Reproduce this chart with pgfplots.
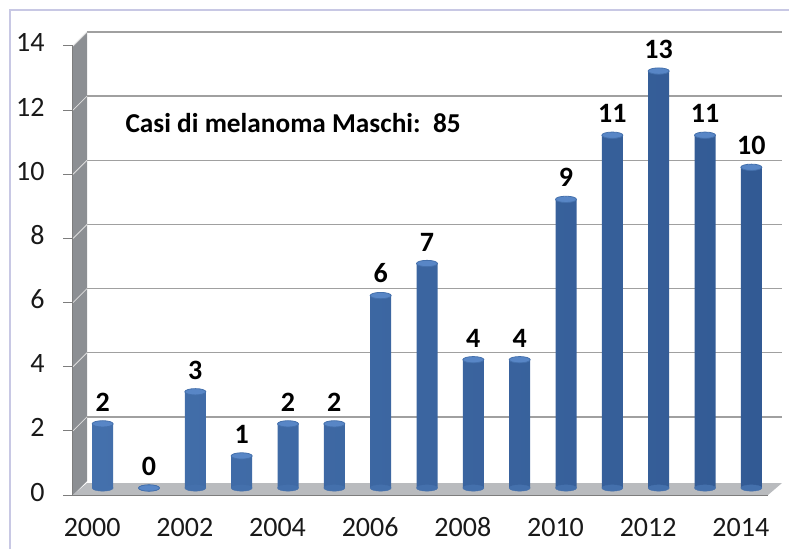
\documentclass[border=0pt]{standalone}
\usepackage{fontspec}
\setmainfont{Carlito}
\usepackage{pgfplots}
\usepackage{pgfplotstable}
\pgfplotsset{compat=1.18}

\definecolor{barmid}{RGB}{100,150,212}
\definecolor{barleft}{RGB}{68,112,172}
\definecolor{bardark}{RGB}{50,90,148}
\definecolor{bartop}{RGB}{88,134,198}
\definecolor{wallgray}{RGB}{140,143,147}
\definecolor{floorgray}{RGB}{185,187,190}
\definecolor{gridgray}{RGB}{160,160,160}
\definecolor{framecol}{RGB}{200,200,228}
\definecolor{tickgray}{RGB}{125,125,125}

% melanoma cases, males
\pgfplotstableread{
year cases base
2000 2  0
2001 0  0
2002 3  0
2003 1  0
2004 2  0
2005 2  0
2006 6  0
2007 7  0
2008 4  0
2009 4  0
2010 9  0
2011 11 0
2012 13 0
2013 11 0
2014 10 0
}\casi

\begin{document}
\begin{tikzpicture}[x=1pt,y=1pt]
% outer frame (only left and top visible)
\draw[framecol, line width=1.2pt] (-63,-54) -- (-63,485) -- (716,485);
% 3d walls
\fill[wallgray] (0,0) -- (0,449) -- (14,463) -- (14,14) -- cycle;
\fill[floorgray] (0,0) -- (695,0) -- (709,12) -- (14,12) -- cycle;
\foreach \v in {2,4,...,14} {
  \draw[gridgray, line width=1.5pt] (14,{32.07*\v+14}) -- (709,{32.07*\v+14});
  \draw[white!75!gray, line width=0.8pt] (0,{32.07*\v}) -- (14,{32.07*\v+14});
}

\begin{axis}[
  at={(0,0)}, anchor=south west,
  scale only axis, width=695pt, height=449pt,
  xmin=1999.5, xmax=2014.5, ymin=0, ymax=14,
  axis x line*=bottom, axis y line*=left,
  axis line style={draw=tickgray, line width=1pt, -},
  tick align=outside,
  major tick length=10pt,
  major tick style={draw=tickgray, line width=1pt},
  xtick={2000,2002,2004,2006,2008,2010,2012,2014},
  xticklabels={2000,2002,2004,2006,2008,2010,2012,2014},
  xtick style={draw=none},
  extra x ticks={1999.5,2000.5,2001.5,2002.5,2003.5,2004.5,2005.5,2006.5,2007.5,2008.5,2009.5,2010.5,2011.5,2012.5,2013.5,2014.5},
  extra x tick labels={},
  extra x tick style={major tick style={draw=tickgray, line width=1pt}},
  ytick={0,2,4,6,8,10,12,14},
  yticklabels={0,2,4,6,8,10,12,14},
  typeset ticklabels with strut,
  tick label style={font=\fontsize{28}{30}\selectfont, text=black!90},
  xticklabel style={xshift=-4pt, yshift=-7pt},
  yticklabel style={xshift=-15pt},
  clip=false,
]
% rounded bottoms
\addplot[only marks, mark=*, mark size=10.5pt,
  mark options={yscale=0.3, fill=barleft, draw=barleft},
  xshift=6.5pt, yshift=7pt]
  table[x=year, y=base] {\casi};
% cylinder bodies
\addplot[ybar, bar width=21pt, draw=none,
  left color=barleft, middle color=barmid, right color=bardark,
  restrict y to domain=0.5:20,
  xshift=6.5pt, yshift=7pt]
  table[x=year, y=cases] {\casi};
% cylinder tops and values
\addplot[only marks, mark=*, mark size=10.5pt,
  mark options={yscale=0.3, fill=bartop, draw=barleft, line width=0.8pt},
  xshift=6.5pt, yshift=7pt,
  point meta=explicit symbolic,
  nodes near coords,
  nodes near coords style={font=\bfseries\fontsize{28}{30}\selectfont,
    anchor=south, inner sep=0pt, yshift=12pt, text=black}]
  table[x=year, y=cases, meta=cases] {\casi};
\end{axis}

\node[anchor=base west, font=\bfseries\fontsize{27.3}{30}\selectfont]
  at (49,362) {Casi di melanoma Maschi:\ \ 85};

\pgfresetboundingbox
\useasboundingbox (-73,-54) rectangle (716,495);
\end{tikzpicture}
\end{document}
